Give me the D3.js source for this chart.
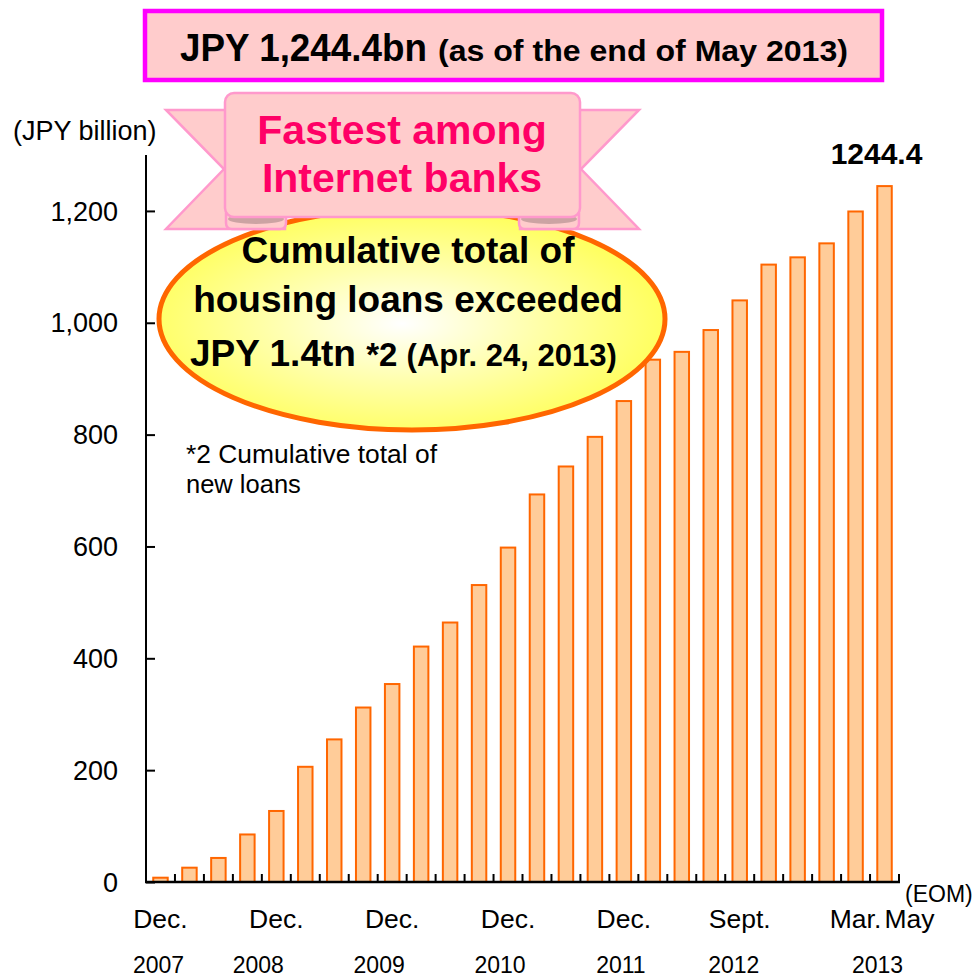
<!DOCTYPE html>
<html>
<head>
<meta charset="utf-8">
<script src="https://cdn.jsdelivr.net/npm/d3@7/dist/d3.min.js"></script>
<style>
  html, body { margin: 0; padding: 0; background: #fff; }
  svg { display: block; font-family: "Liberation Sans", Arial, sans-serif; }
</style>
</head>
<body>
<svg id="chart" width="976" height="980"></svg>
<script>
// ---- data ----
const categories = ["P01","P02","P03","P04","P05","P06","P07","P08","P09","P10","P11","P12","P13",
                    "P14","P15","P16","P17","P18","P19","P20","P21","P22","P23","P24","P25","P26"];
const loanBalance = [7.7, 25.6, 43, 85, 127, 206, 255, 312, 354, 421, 464, 531, 598,
                     693, 743, 796, 860, 934, 948, 987, 1040, 1104, 1117, 1142, 1199, 1244.4];
const yTicks = [0, 200, 400, 600, 800, 1000, 1200];
const monthLabels = ["Dec.", "Dec.", "Dec.", "Dec.", "Dec.", "Sept.", "Mar.", "May"];
const monthCats   = ["P01", "P05", "P09", "P13", "P17", "P21", "P25", "P26"];
const yearLabels  = ["2007", "2008", "2009", "2010", "2011", "2012", "2013"];
const yearCats    = ["P01", "P05", "P09", "P13", "P17", "P21", "P25"];
const lastValueLabel = "1244.4";

// ---- layout ----
const svg = d3.select("#chart");
const x0 = 146, x1 = 899, yBase = 882, yTop = 155;
const x = d3.scaleBand().domain(categories).range([x0, x1]).paddingInner(0.5).paddingOuter(0.25);
const y = d3.scaleLinear().domain([0, 1300]).range([yBase, yTop]);
const cx = c => x(c) + x.bandwidth() / 2;
const yearShift = [-2, -18, -13, -8, -3, -6, 22];

// bars
svg.append("g").selectAll("rect").data(loanBalance).join("rect")
  .attr("x", (d, i) => x(categories[i]))
  .attr("width", x.bandwidth())
  .attr("y", d => y(d))
  .attr("height", d => yBase - y(d))
  .attr("fill", "#FFCC99")
  .attr("stroke", "#FF6600")
  .attr("stroke-width", 2);

// y axis
const yAxis = d3.axisRight(y).tickValues(yTicks).tickSize(9).tickFormat("");
const gy = svg.append("g").attr("transform", `translate(${x0},0)`).call(yAxis);
gy.select(".domain").remove();
gy.selectAll(".tick line").attr("stroke", "#000").attr("stroke-width", 2);
svg.append("line").attr("x1", x0).attr("x2", x0).attr("y1", yTop).attr("y2", yBase)
  .attr("stroke", "#000").attr("stroke-width", 2);
svg.append("g").selectAll("text").data(yTicks).join("text")
  .attr("x", 118).attr("y", d => y(d)).attr("dy", "0.36em")
  .attr("text-anchor", "end").attr("font-size", 27).attr("fill", "#000")
  .text(d => d3.format(",")(d));

// x axis
const xTickPos = categories.map(c => x(c) + x.bandwidth() / 2 + x.step() / 2);
svg.append("g").selectAll("line").data(xTickPos).join("line")
  .attr("x1", d => d).attr("x2", d => d).attr("y1", yBase).attr("y2", yBase - 8)
  .attr("stroke", "#000").attr("stroke-width", 2);
svg.append("line").attr("x1", x0 - 1).attr("x2", x1 + 1).attr("y1", yBase).attr("y2", yBase)
  .attr("stroke", "#000").attr("stroke-width", 2.5);

// month labels
svg.append("g").selectAll("text").data(monthLabels).join("text")
  .attr("x", (d, i) => cx(monthCats[i]))
  .attr("y", 928)
  .attr("text-anchor", (d, i) => i === monthLabels.length - 1 ? "start" : "middle")
  .attr("font-size", 26.5).attr("fill", "#000")
  .text(d => d);
// year labels
svg.append("g").selectAll("text").data(yearLabels).join("text")
  .attr("x", (d, i) => cx(yearCats[i]) + yearShift[i])
  .attr("y", 973)
  .attr("text-anchor", "middle")
  .attr("font-size", 23).attr("fill", "#000")
  .text(d => d);

svg.append("text").attr("x", 905).attr("y", 902).attr("font-size", 23).text("(EOM)");
svg.append("text").attr("x", 13).attr("y", 140).attr("font-size", 27).text("(JPY billion)");

// last value label
const lastCat = categories[categories.length - 1];
svg.append("text").attr("x", cx(lastCat) - 8).attr("y", 164)
  .attr("text-anchor", "middle").attr("font-size", 30).attr("font-weight", "bold")
  .text(lastValueLabel);

// footnote
svg.append("text").attr("x", 186).attr("y", 463).attr("font-size", 25.5)
  .attr("textLength", 251).attr("lengthAdjust", "spacingAndGlyphs").text("*2 Cumulative total of");
svg.append("text").attr("x", 186).attr("y", 493).attr("font-size", 25.5).text("new loans");

// ellipse callout
const defs = svg.append("defs");
const grad = defs.append("radialGradient").attr("id", "ellG")
  .attr("cx", "48%").attr("cy", "52%").attr("r", "55%");
grad.append("stop").attr("offset", "0%").attr("stop-color", "#FFFFFF");
grad.append("stop").attr("offset", "45%").attr("stop-color", "#FFFFB0");
grad.append("stop").attr("offset", "100%").attr("stop-color", "#FFFF55");
svg.append("ellipse").attr("cx", 412).attr("cy", 319).attr("rx", 253).attr("ry", 111)
  .attr("fill", "url(#ellG)").attr("stroke", "#FF6600").attr("stroke-width", 5);

const eg = svg.append("g").attr("font-weight", "bold").attr("fill", "#000");
eg.append("text").attr("x", 408).attr("y", 263).attr("text-anchor", "middle").attr("font-size", 37)
  .text("Cumulative total of");
eg.append("text").attr("x", 408).attr("y", 312).attr("text-anchor", "middle").attr("font-size", 37)
  .text("housing loans exceeded");
const l3 = eg.append("text").attr("x", 190).attr("y", 366).attr("font-size", 37);
l3.append("tspan").text("JPY 1.4tn ");
l3.append("tspan").attr("font-size", 33).text("*2 ");
l3.append("tspan").attr("font-size", 31).text("(Apr. 24, 2013)");

// ribbon
const rg = svg.append("g");
const pinkFill = "#FFCCCC", pinkLine = "#FF99CC";
rg.append("polygon").attr("points", "166,110 285,110 285,229 166,229 224,169")
  .attr("fill", pinkFill).attr("stroke", pinkLine).attr("stroke-width", 2.5);
rg.append("polygon").attr("points", "639,110 520,110 520,229 639,229 581,169")
  .attr("fill", pinkFill).attr("stroke", pinkLine).attr("stroke-width", 2.5);
// folds
[[226, 286], [519, 579]].forEach(([a, b]) => {
  rg.append("path")
    .attr("d", `M${a},214 L${b},214 L${b},223 Q${b},229 ${b - 6},229 L${a + 6},229 Q${a},229 ${a},223 Z`)
    .attr("fill", pinkFill).attr("stroke", pinkLine).attr("stroke-width", 2.5);
  rg.append("ellipse").attr("cx", (a + b) / 2).attr("cy", 219).attr("rx", (b - a) / 2 - 2).attr("ry", 5)
    .attr("fill", "#CCA3A3");
});
rg.append("rect").attr("x", 225).attr("y", 93).attr("width", 355).attr("height", 124).attr("rx", 9)
  .attr("fill", pinkFill).attr("stroke", pinkLine).attr("stroke-width", 2.5);
rg.append("text").attr("x", 402).attr("y", 144).attr("text-anchor", "middle")
  .attr("font-size", 41).attr("font-weight", "bold").attr("fill", "#FF0066").text("Fastest among");
rg.append("text").attr("x", 402).attr("y", 192).attr("text-anchor", "middle")
  .attr("font-size", 41).attr("font-weight", "bold").attr("fill", "#FF0066").text("Internet banks");

// title box
svg.append("rect").attr("x", 145).attr("y", 11).attr("width", 737).attr("height", 69)
  .attr("fill", "#FFCCCC").attr("stroke", "#FF00FF").attr("stroke-width", 4.5);
svg.append("text").attr("x", 180).attr("y", 61).attr("font-size", 38).attr("font-weight", "bold")
  .attr("textLength", 247).attr("lengthAdjust", "spacingAndGlyphs").text("JPY 1,244.4bn");
svg.append("text").attr("x", 438).attr("y", 61).attr("font-size", 30).attr("font-weight", "bold")
  .attr("textLength", 410).attr("lengthAdjust", "spacingAndGlyphs").text("(as of the end of May 2013)");
</script>
</body>
</html>
